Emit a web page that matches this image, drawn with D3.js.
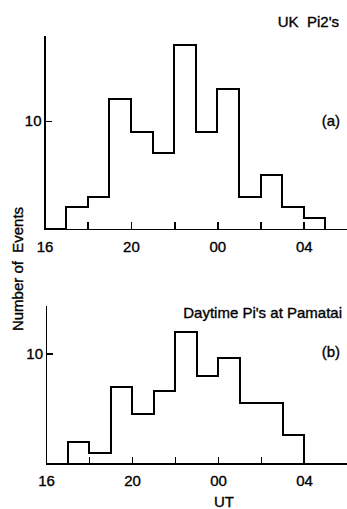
<!DOCTYPE html>
<meta charset="utf-8">
<style>
body { margin: 0; background: #fff; }
svg { display: block; background: #fff; }
.axis path, .axis line { stroke: #000; stroke-width: 1.8px; shape-rendering: crispEdges; }
.axis text { font: 15px "Liberation Sans", sans-serif; fill: #000; stroke: #000; stroke-width: 0.35px; }
.hist { fill: none; stroke: #000; stroke-width: 2px; shape-rendering: crispEdges; }
.lbl { font: 15px "Liberation Sans", sans-serif; fill: #000; stroke: #000; stroke-width: 0.35px; white-space: pre; }
</style>
<body>
<div id="chart"></div>
<script src="https://cdn.jsdelivr.net/npm/d3@7"></script>
<script>
// hour-of-day bins (UT), one hour wide, starting at 16 UT
var binHours = [16, 17, 18, 19, 20, 21, 22, 23, 24, 25, 26, 27, 28, 29];
// (a) UK Pi2's
var ukCounts = [0, 2, 3, 12, 9, 7, 17, 9, 13, 3, 5, 2, 1, 0];
// (b) Daytime Pi's at Pamatai
var pamataiCounts = [0, 2, 1, 7, 4.5, 6.6, 12, 8, 9.6, 5.5, 5.5, 2.6, 0, 0];
var xTicks = [16, 18, 20, 22, 24, 26, 28];
var xLabelled = [16, 20, 24, 28];
var yTicks = [10];

var W = 347, H = 509;
var svg = d3.select("#chart").append("svg")
    .attr("width", W)
    .attr("height", H);

function drawPanel(cfg) {
    var x = d3.scaleLinear().domain([16, 30]).range([cfg.left, W]),
        y = d3.scaleLinear().domain([0, cfg.ymax]).range([cfg.base, cfg.top]);

    var xAxis = d3.axisBottom(x)
        .tickValues(xTicks)
        .tickSizeInner(-7)
        .tickSizeOuter(0)
        .tickPadding(12)
        .tickFormat(function(d) {
            return xLabelled.indexOf(d) >= 0 ? d3.format("02d")(d % 24) : "";
        });
    var yAxis = d3.axisLeft(y)
        .tickValues(yTicks)
        .tickSizeInner(-7)
        .tickSizeOuter(0)
        .tickPadding(3);

    var gx = svg.append("g")
        .attr("class", "axis")
        .attr("transform", "translate(0," + cfg.base + ")")
        .call(xAxis);
    gx.attr("font-size", null).attr("font-family", null);
    gx.selectAll(".tick text").attr("dy", "0.71em");

    var gy = svg.append("g")
        .attr("class", "axis")
        .attr("transform", "translate(" + cfg.left + ",0)")
        .call(yAxis);
    gy.attr("font-size", null).attr("font-family", null);

    var line = d3.line()
        .x(function(d) { return x(d[0]); })
        .y(function(d) { return y(d[1]); })
        .curve(d3.curveStepAfter);

    svg.append("path")
        .attr("class", "hist")
        .attr("d", line(binHours.map(function(h, i) { return [h, cfg.data[i]]; })));

    svg.append("text")
        .attr("class", "lbl")
        .attr("text-anchor", "end")
        .attr("x", 340)
        .attr("y", cfg.tagY)
        .text(cfg.tag);

    svg.append("text")
        .attr("class", "lbl")
        .attr("text-anchor", "end")
        .attr("x", cfg.titleX)
        .attr("y", cfg.titleY)
        .text(cfg.title);
}

drawPanel({
    data: ukCounts, left: 44.5, base: 229, top: 35, ymax: 17.96,
    tag: "(a)", tagY: 126, title: "UK  Pi2's", titleX: 339, titleY: 26.5
});
drawPanel({
    data: pamataiCounts, left: 46, base: 463.5, top: 305, ymax: 14.45,
    tag: "(b)", tagY: 357, title: "Daytime Pi's at Pamatai", titleX: 342, titleY: 318
});

svg.append("text")
    .attr("class", "lbl")
    .attr("text-anchor", "middle")
    .attr("transform", "translate(23,269) rotate(-90)")
    .text("Number of  Events");

svg.append("text")
    .attr("class", "lbl")
    .attr("text-anchor", "middle")
    .attr("x", 224)
    .attr("y", 507)
    .text("UT");
</script>
